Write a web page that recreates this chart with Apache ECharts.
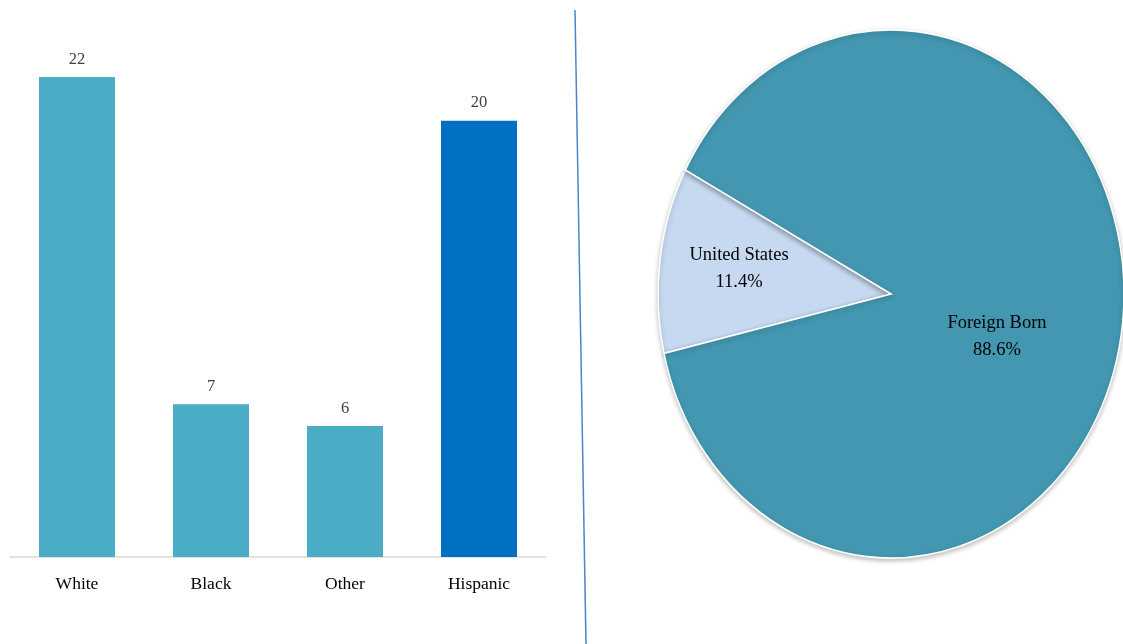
<!DOCTYPE html>
<html><head><meta charset="utf-8">
<script src="https://cdn.jsdelivr.net/npm/echarts@6/dist/echarts.min.js"></script>
<style>html,body{margin:0;padding:0;background:#fff}#c{width:1123px;height:644px}</style>
</head><body><div id="c"></div>
<script>
const categories = ['White', 'Black', 'Other', 'Hispanic'];
const barValues = [22, 7, 6, 20];
const pieNames = ['United States', 'Foreign Born'];
const pieValues = [11.4, 88.6];

const barColors = ['#4BACC6', '#4BACC6', '#4BACC6', '#0070C0'];
const pieColors = ['#C6D9F0', '#4397B0'];
const FONT = '"Liberation Serif", "DejaVu Serif", serif';

// pie geometry (style)
const PCX = 891, PCY = 294, RX = 233, RY = 264, START = 193;
const pieLabelAt = [[739, 269], [997, 337]];

const total = pieValues.reduce((a, b) => a + b, 0);

const chart = echarts.init(document.getElementById('c'));
chart.setOption({
  animation: false,
  grid: { left: 10, right: 577, top: 33.4, bottom: 87 },
  xAxis: {
    type: 'category', data: categories,
    axisLine: { lineStyle: { color: '#D9D9D9', width: 1.5 } },
    axisTick: { show: false },
    axisLabel: { color: '#000', fontFamily: FONT, fontSize: 17.5, margin: 18 }
  },
  yAxis: { type: 'value', min: 0, max: 24, show: false, splitLine: { show: false } },
  series: [{
    type: 'bar', barWidth: 76,
    data: barValues.map((v, i) => ({ value: v, itemStyle: { color: barColors[i] } })),
    label: { show: true, position: 'top', distance: 9, color: '#404040', fontFamily: FONT, fontSize: 16.5 }
  }, {
    type: 'custom', coordinateSystem: 'none',
    data: pieValues.map((v, i) => [v, i]),
    renderItem: function (params, api) {
      const idx = params.dataIndex;
      let before = 0;
      for (let k = 0; k < idx; k++) before += pieValues[k];
      const a0 = START - before / total * 360;
      const a1 = a0 - pieValues[idx] / total * 360;
      const pct = (pieValues[idx] / total * 100).toFixed(1) + '%';
      return {
        type: 'group',
        children: [{
          type: 'sector',
          x: PCX, y: PCY, scaleY: RY / RX,
          shape: { cx: 0, cy: 0, r0: 0, r: RX,
                   startAngle: -a0 * Math.PI / 180, endAngle: -a1 * Math.PI / 180, clockwise: true },
          style: { fill: pieColors[idx], stroke: '#fff', lineWidth: 1.5,
                   shadowBlur: 5, shadowOffsetY: 2, shadowColor: 'rgba(0,0,0,0.25)' }
        }, {
          type: 'text',
          x: pieLabelAt[idx][0], y: pieLabelAt[idx][1],
          z2: 10,
          style: { text: pieNames[idx] + '\n' + pct, fill: '#000', font: '18.5px ' + FONT,
                   align: 'center', verticalAlign: 'middle', lineHeight: 27 }
        }]
      };
    }
  }],
  graphic: [{
    type: 'line',
    shape: { x1: 575, y1: 10, x2: 586, y2: 644 },
    style: { stroke: '#4A86C8', lineWidth: 1.5 }
  }]
});
</script></body></html>
